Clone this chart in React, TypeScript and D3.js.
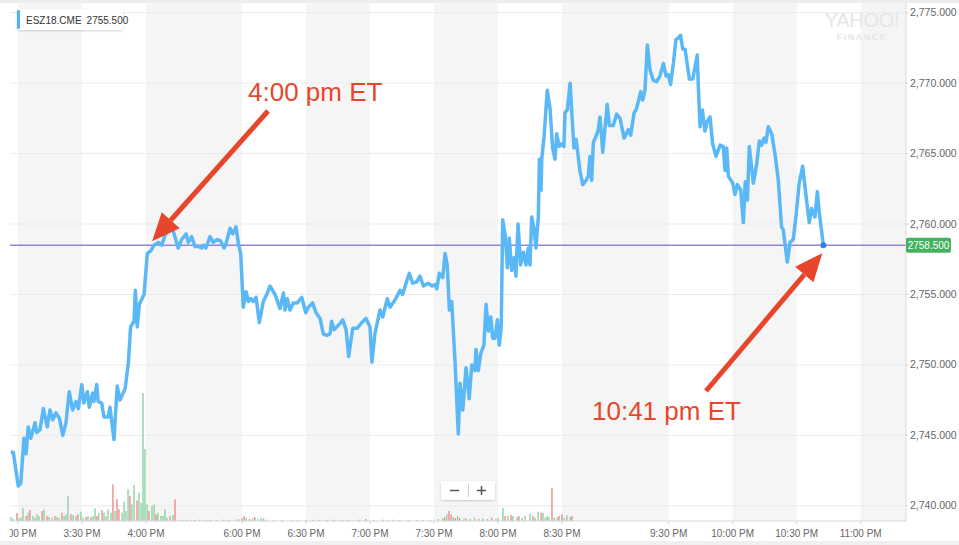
import React from "react";
import * as d3 from "d3";

// ---- DATA ----
// time axis: trading minutes since 3:00 PM ET (session halts removed)
const tickMinutes = [0, 30, 60, 105, 135, 165, 195, 225, 255, 305, 335, 365, 395];
const tickLabels = ["3:00 PM", "3:30 PM", "4:00 PM", "6:00 PM", "6:30 PM", "7:00 PM", "7:30 PM", "8:00 PM", "8:30 PM", "9:30 PM", "10:00 PM", "10:30 PM", "11:00 PM"];
const priceTicks = [2740, 2745, 2750, 2755, 2760, 2765, 2770, 2775];
const symbol = "ESZ18.CME";
const legendPrice = "2755.500";
const lastPrice = 2758.5;

// [minute, price]
const prices: [number, number][] = [
  [-3.4, 2743.8], [-2.2, 2743.8], [0.1, 2741.4], [1.3, 2741.6], [2.8, 2744.8], [3.8, 2743.7], [4.8, 2745.6], [6.0, 2744.8],
  [8.0, 2745.9], [8.8, 2745.2], [10.3, 2745.4], [11.9, 2746.9], [13.7, 2745.6], [15.0, 2746.8], [16.3, 2746.1], [17.8, 2746.6],
  [19.4, 2746.2], [21.0, 2745.0], [22.5, 2745.9], [24.0, 2748.1], [25.6, 2746.8], [27.2, 2747.4], [28.3, 2746.9], [29.9, 2748.6],
  [30.9, 2747.3], [32.5, 2748.1], [33.4, 2747.0], [35.0, 2748.0], [35.6, 2747.4], [36.9, 2748.6], [37.6, 2747.4], [39.2, 2747.3],
  [40.3, 2746.3], [42.3, 2746.3], [43.1, 2747.0], [45.0, 2744.7], [46.5, 2748.5], [47.8, 2747.5], [50.2, 2748.3], [51.7, 2750.1],
  [52.8, 2752.7], [54.4, 2753.1], [55.0, 2755.3], [55.9, 2752.7], [56.9, 2754.3], [59.1, 2755.0], [60.6, 2757.9], [62.2, 2758.1],
  [63.8, 2758.5], [65.8, 2758.7], [67.4, 2758.5], [68.9, 2759.2], [72.0, 2759.9], [75.1, 2758.3], [76.7, 2758.9], [78.8, 2759.3],
  [79.8, 2758.7], [81.4, 2759.1], [83.0, 2758.4], [84.5, 2758.4], [86.1, 2758.3], [86.9, 2758.5], [88.1, 2758.3], [90.0, 2759.1],
  [91.5, 2758.7], [93.4, 2758.9], [95.0, 2758.8], [96.6, 2758.3], [97.5, 2758.6], [99.4, 2759.7], [100.6, 2759.3], [102.2, 2759.8],
  [103.3, 2758.6], [104.4, 2757.9], [105.6, 2754.1], [106.9, 2755.2], [108.0, 2754.5], [109.1, 2754.7], [110.3, 2754.5], [111.6, 2754.8],
  [113.1, 2753.0], [115.0, 2754.5], [116.6, 2755.0], [118.1, 2755.6], [120.5, 2755.0], [122.8, 2754.0], [124.4, 2755.1], [125.2, 2753.9],
  [126.2, 2754.7], [127.5, 2753.9], [129.0, 2754.4], [130.9, 2754.4], [133.0, 2754.8], [134.9, 2753.7], [136.1, 2754.1], [138.1, 2754.4],
  [139.7, 2753.7], [141.6, 2753.3], [143.1, 2752.2], [144.7, 2752.1], [146.3, 2752.2], [147.0, 2753.1], [148.1, 2752.5], [150.1, 2752.8],
  [152.2, 2753.2], [153.8, 2752.5], [155.0, 2750.6], [156.9, 2752.6], [159.0, 2752.6], [161.1, 2753.0], [163.1, 2753.3], [165.0, 2752.7],
  [165.9, 2750.2], [167.3, 2752.2], [169.7, 2753.9], [171.0, 2753.4], [173.1, 2754.7], [174.4, 2754.1], [176.7, 2754.6], [179.1, 2755.3],
  [180.3, 2755.0], [181.9, 2755.8], [183.4, 2756.5], [185.0, 2755.8], [186.9, 2755.9], [188.4, 2756.3], [190.0, 2755.6], [192.3, 2755.8],
  [193.9, 2755.6], [195.5, 2755.7], [196.3, 2755.4], [197.5, 2756.5], [199.1, 2756.2], [200.2, 2757.9], [201.2, 2757.1], [202.2, 2753.9],
  [203.3, 2754.5], [204.8, 2750.4], [206.4, 2745.1], [207.2, 2748.7], [208.5, 2746.8], [210.0, 2749.8], [211.5, 2747.6], [212.7, 2750.0],
  [214.2, 2749.6], [214.7, 2751.1], [215.8, 2749.6], [216.9, 2750.8], [218.4, 2751.4], [219.4, 2754.3], [220.5, 2752.4], [221.6, 2753.4],
  [222.5, 2751.9], [223.6, 2751.9], [224.7, 2753.2], [225.6, 2751.4], [226.5, 2752.7], [227.2, 2760.3], [228.4, 2759.2], [229.4, 2756.9],
  [230.3, 2759.0], [231.4, 2756.7], [232.5, 2757.6], [233.4, 2756.3], [234.4, 2760.0], [235.6, 2757.1], [236.9, 2758.0], [238.1, 2757.1],
  [239.2, 2758.3], [240.0, 2757.1], [240.8, 2760.5], [241.9, 2759.7], [242.8, 2758.3], [243.9, 2760.5], [244.4, 2764.6], [245.2, 2762.4],
  [245.5, 2764.6], [246.6, 2766.2], [248.1, 2769.5], [249.4, 2768.2], [250.6, 2765.4], [251.7, 2764.6], [252.5, 2766.4], [253.7, 2765.5],
  [254.9, 2765.7], [255.9, 2765.5], [256.4, 2767.9], [257.5, 2768.1], [258.8, 2770.0], [259.8, 2767.4], [260.6, 2765.4], [261.6, 2766.0],
  [262.2, 2765.3], [263.4, 2763.8], [264.7, 2762.8], [266.3, 2763.1], [267.3, 2763.4], [268.1, 2764.8], [268.9, 2763.1], [269.7, 2765.8],
  [270.9, 2766.2], [272.0, 2766.7], [272.8, 2767.6], [274.1, 2765.1], [275.2, 2766.9], [276.2, 2768.5], [277.2, 2767.0], [279.0, 2767.0],
  [280.6, 2767.8], [282.2, 2767.5], [284.1, 2766.1], [286.1, 2766.7], [287.2, 2766.3], [288.8, 2767.9], [289.7, 2768.1], [290.8, 2768.7],
  [291.9, 2769.4], [292.8, 2768.8], [293.9, 2769.5], [295.0, 2772.7], [296.3, 2770.9], [297.8, 2770.2], [299.4, 2770.1], [300.9, 2770.5],
  [302.5, 2771.4], [303.8, 2770.5], [304.8, 2770.6], [305.9, 2769.9], [307.2, 2771.4], [308.4, 2773.1], [309.5, 2773.2], [310.6, 2773.4],
  [311.6, 2772.4], [312.7, 2772.4], [314.7, 2770.3], [316.3, 2770.3], [318.4, 2772.0], [318.9, 2769.8], [319.7, 2766.9], [320.8, 2768.1],
  [322.0, 2766.6], [323.1, 2767.3], [324.4, 2767.6], [325.6, 2765.7], [327.2, 2764.8], [329.1, 2765.6], [330.6, 2765.5], [331.4, 2763.8],
  [332.2, 2765.4], [333.0, 2763.4], [335.0, 2762.9], [336.1, 2762.1], [337.2, 2762.8], [338.8, 2762.4], [340.0, 2760.1], [340.9, 2763.0],
  [341.9, 2761.7], [342.8, 2765.5], [344.7, 2762.9], [346.3, 2764.3], [347.5, 2765.9], [348.6, 2765.6], [349.7, 2766.1], [350.6, 2765.8],
  [351.7, 2766.9], [353.3, 2766.4], [354.8, 2765.0], [356.4, 2763.1], [357.9, 2759.8], [358.7, 2759.6], [360.6, 2757.3], [361.9, 2758.7],
  [363.4, 2758.9], [364.7, 2760.6], [366.2, 2762.9], [367.8, 2764.1], [369.7, 2761.6], [370.9, 2760.1], [372.0, 2761.1], [373.6, 2760.5],
  [374.7, 2762.3], [375.6, 2760.8], [377.5, 2758.5],
];

// [minute, volume, up(1)/down(0)]
const volumes: [number, number, number][] = [
  [-3.3, 120, 1], [-2.3, 60, 1], [-0.5, 240, 0], [0.5, 80, 1], [1.4, 100, 1], [2.3, 390, 1], [3.8, 150, 0], [4.7, 250, 1],
  [5.6, 330, 0], [7.0, 150, 1], [8.0, 100, 1], [8.9, 200, 1], [9.8, 150, 1], [11.3, 300, 0], [12.2, 350, 1], [13.6, 150, 0],
  [14.5, 120, 1], [15.9, 100, 1], [17.3, 150, 0], [18.3, 120, 1], [19.2, 100, 1], [20.6, 250, 0], [21.6, 150, 1], [22.5, 200, 1],
  [23.4, 750, 1], [24.8, 200, 0], [25.8, 180, 1], [27.2, 150, 1], [28.1, 200, 0], [29.5, 280, 1], [30.5, 100, 1], [31.9, 120, 0],
  [32.8, 150, 1], [34.2, 120, 0], [35.2, 150, 1], [36.1, 380, 1], [37.0, 150, 0], [37.9, 250, 1], [39.4, 330, 0], [40.3, 250, 1],
  [41.2, 150, 1], [42.2, 350, 1], [43.6, 250, 1], [44.5, 1100, 0], [45.5, 300, 1], [46.4, 650, 0], [47.3, 350, 0], [48.8, 250, 1],
  [49.7, 580, 1], [50.6, 300, 1], [51.6, 950, 1], [52.5, 750, 0], [53.4, 500, 1], [54.4, 1080, 1], [55.8, 620, 0], [56.7, 850, 1],
  [57.7, 550, 1], [58.6, 3840, 1], [59.5, 2160, 1], [60.5, 500, 1], [61.4, 300, 0], [62.8, 450, 1], [63.8, 500, 1], [64.7, 200, 0],
  [65.6, 250, 1], [67.0, 150, 1], [68.0, 150, 1], [68.9, 350, 1], [69.8, 100, 1], [71.3, 150, 0], [72.7, 180, 1], [73.6, 650, 0],
  [75.5, 40, 1], [77, 30, 0], [79, 40, 1], [81, 30, 1], [83, 30, 0], [85, 40, 1], [88, 30, 1], [90, 30, 0], [93, 30, 1], [96, 40, 1],
  [99, 30, 0], [102, 40, 1], [103.5, 60, 1], [105, 80, 0], [106, 150, 0], [107, 100, 1], [108.5, 60, 0], [110, 80, 1], [111, 120, 0],
  [112.5, 60, 1], [114, 100, 1], [115, 80, 1], [116, 40, 0], [120, 30, 1], [124, 30, 0], [128, 30, 1], [131, 30, 1], [135, 30, 0],
  [138, 40, 1], [141, 30, 0], [145, 30, 1], [148, 40, 0], [152, 30, 1], [155, 30, 0], [160, 40, 1], [163, 60, 0], [167, 30, 1],
  [171, 40, 0], [173, 30, 1], [176, 40, 1], [179, 30, 0], [183, 30, 1], [187, 30, 0], [190, 30, 1], [193, 30, 1],
  [197, 60, 1], [199, 80, 1], [200, 120, 0], [201, 200, 1], [202, 300, 0], [203, 200, 0], [204, 120, 1], [205, 90, 0], [206, 150, 1],
  [207, 90, 0], [209, 60, 1], [210, 80, 0], [212, 60, 1], [214, 100, 1], [216, 60, 0], [218, 80, 1], [220, 60, 1], [222, 100, 0],
  [224, 60, 1], [225, 90, 1], [227.3, 390, 1], [228.3, 150, 0], [229.7, 150, 1], [231.1, 180, 0], [232, 150, 1], [233.9, 120, 1],
  [234.8, 150, 0], [236.3, 100, 1], [237.7, 150, 1], [240, 220, 1], [241.4, 150, 0], [242.3, 100, 1], [243.8, 280, 1], [245.2, 250, 0],
  [246.1, 250, 1], [247.1, 100, 1], [248, 150, 1], [248.9, 120, 1], [250.3, 1000, 0], [251.3, 100, 1], [252.7, 120, 1], [253.6, 150, 0],
  [255, 200, 0], [256, 100, 1], [257.3, 180, 1], [258.8, 120, 1], [259.7, 150, 0],
];

const annotations = [
  { text: "4:00 pm ET", minute: 63.8, price: 2758.5 },
  { text: "10:41 pm ET", minute: 377.5, price: 2758.5 },
];

// ---- LAYOUT ----
const W = 959;
const H = 545;
const plotLeft = 10;
const plotRight = 906;
const plotTop = 3;
const plotBottom = 521;
const FONT = "'Liberation Sans', Arial, Helvetica, sans-serif";

export default function App() {
  const x = d3.scaleLinear().domain([0, 30]).range([18, 82]);
  const y = d3.scaleLinear().domain([2740, 2775]).range([505.8, 12.7]);
  const vy = d3.scaleLinear().domain([0, 4500]).range([plotBottom, plotBottom - 150]);

  const line = d3
    .line<[number, number]>()
    .x((d) => x(d[0]))
    .y((d) => y(d[1]));

  const bandEdges = [...tickMinutes, x.invert(plotRight)];
  const bands = bandEdges.slice(0, -1).map((m, i) => ({ m0: m, m1: bandEdges[i + 1], grey: i % 2 === 0 }));

  const last = prices[prices.length - 1];
  const red = "#e8462a";

  const arrow = (x1: number, y1: number, x2: number, y2: number, key: string) => {
    const ang = Math.atan2(y2 - y1, x2 - x1);
    const headLen = 28;
    const headW = 12;
    const bx = x2 - headLen * Math.cos(ang);
    const by = y2 - headLen * Math.sin(ang);
    const px = -Math.sin(ang);
    const py = Math.cos(ang);
    return (
      <g key={key}>
        <line x1={x1} y1={y1} x2={bx} y2={by} stroke={red} strokeWidth={5} />
        <polygon
          points={`${x2},${y2} ${bx + px * headW},${by + py * headW} ${bx - px * headW},${by - py * headW}`}
          fill={red}
        />
      </g>
    );
  };

  const a1x = x(annotations[0].minute);
  const a1y = y(annotations[0].price);
  const a2x = x(annotations[1].minute);
  const a2y = y(annotations[1].price);

  return (
    <svg width={W} height={H} style={{ position: "absolute", left: 0, top: 0, background: "#fff" }} fontFamily={FONT}>
      <defs>
        <clipPath id="plotClip">
          <rect x={plotLeft} y={0} width={plotRight - plotLeft} height={H} />
        </clipPath>
        <filter id="shadow" x="-20%" y="-40%" width="140%" height="180%">
          <feDropShadow dx="0" dy="1" stdDeviation="1.2" floodColor="#000" floodOpacity="0.18" />
        </filter>
      </defs>
      <rect x={0} y={0} width={W} height={3} fill="#eeeeee" />
      <rect x={0} y={541} width={W} height={4} fill="#f0f0f0" />

      {/* bands */}
      {bands.map((b, i) =>
        b.grey ? (
          <rect key={i} x={x(b.m0)} y={plotTop} width={x(b.m1) - x(b.m0)} height={plotBottom - plotTop} fill="#f5f5f5" />
        ) : null
      )}

      {/* gridlines */}
      {priceTicks.map((p) => (
        <line key={p} x1={plotLeft} x2={plotRight} y1={y(p)} y2={y(p)} stroke="#ebebeb" strokeWidth={1} />
      ))}

      {/* watermark */}
      <text x={862} y={26.8} textAnchor="middle" fontSize={20} fill="#e6e6e6" letterSpacing={-0.3}>YAHOO!</text>
      <text x={862} y={40} textAnchor="middle" fontSize={9} fontWeight="bold" fill="#e6e6e6" letterSpacing={1.5}>FINANCE</text>

      {/* volume bars */}
      {volumes.map((v, i) => (
        <rect
          key={i}
          x={x(v[0]) - 0.7}
          y={vy(v[1])}
          width={1.4}
          height={plotBottom - vy(v[1])}
          fill={v[2] ? "#8ed3a4" : "#f08c8c"}
        />
      ))}

      {/* last price line */}
      <line x1={plotLeft} x2={plotRight} y1={y(lastPrice)} y2={y(lastPrice)} stroke="#9585d9" strokeWidth={1.5} />

      {/* price line */}
      <path d={line(prices) || ""} fill="none" stroke="#5ab8f7" strokeWidth={3.5} strokeLinejoin="round" />
      <circle cx={x(last[0])} cy={y(last[1])} r={3} fill="#2e7fe0" />

      {/* axes */}
      <line x1={plotLeft} x2={plotRight} y1={plotBottom} y2={plotBottom} stroke="#d6d6d6" />
      <line x1={plotRight} x2={plotRight} y1={plotTop} y2={plotBottom} stroke="#dddddd" />
      <g clipPath="url(#plotClip)">
        {tickMinutes.map((m, i) => (
          <g key={m}>
            <line x1={x(m)} x2={x(m)} y1={plotBottom} y2={plotBottom + 3} stroke="#d6d6d6" />
            <text x={x(m)} y={537} textAnchor="middle" fontSize={10} fill="#666">
              {tickLabels[i]}
            </text>
          </g>
        ))}
      </g>
      {priceTicks.map((p) => (
        <g key={p}>
          <line x1={plotRight} x2={plotRight + 2} y1={y(p)} y2={y(p)} stroke="#ccc" />
          <text x={910} y={y(p) + 3.5} fontSize={10.5} fill="#666">
            {d3.format(",.3f")(p)}
          </text>
        </g>
      ))}

      {/* last price tag */}
      <rect x={plotRight} y={y(lastPrice) - 7.5} width={45} height={15} rx={2} fill="#43b35f" />
      <text x={plotRight + 22.5} y={y(lastPrice) + 3.5} textAnchor="middle" fontSize={10} fill="#fff">
        {d3.format(".3f")(lastPrice)}
      </text>

      {/* legend */}
      <g filter="url(#shadow)">
        <rect x={17} y={9} width={106} height={21} rx={3} fill="#fff" />
      </g>
      <rect x={17} y={10} width={3} height={19} rx={1} fill="#4fb3f6" />
      <text x={26} y={23.5} fontSize={10} fill="#333">
        {symbol}
        <tspan dx={5}>{legendPrice}</tspan>
      </text>

      {/* zoom control */}
      <g filter="url(#shadow)">
        <rect x={441} y={481} width={54} height={19} rx={3} fill="#fff" />
      </g>
      <line x1={450} x2={459} y1={490.5} y2={490.5} stroke="#555" strokeWidth={1.5} />
      <line x1={468.5} x2={468.5} y1={484} y2={497} stroke="#ccc" />
      <line x1={477} x2={486} y1={490.5} y2={490.5} stroke="#555" strokeWidth={1.5} />
      <line x1={481.5} x2={481.5} y1={486} y2={495} stroke="#555" strokeWidth={1.5} />

      {/* annotations */}
      {arrow(268, 111, a1x - 2, a1y - 4, "a1")}
      <text x={248} y={101} fontSize={26} fill={red}>{annotations[0].text}</text>
      {arrow(706, 391, a2x - 1, a2y + 8, "a2")}
      <text x={592} y={420} fontSize={26} fill={red}>{annotations[1].text}</text>
    </svg>
  );
}
